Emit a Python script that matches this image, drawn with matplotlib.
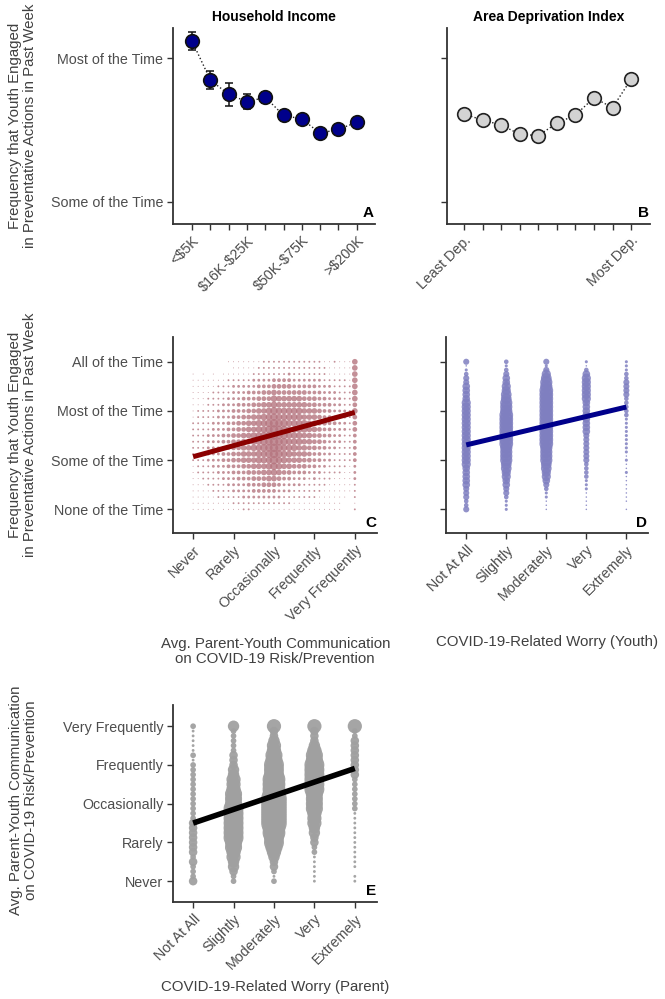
import numpy as np
import matplotlib
matplotlib.use("Agg")
from matplotlib import pyplot as plt

plt.rcParams['font.family'] = ['Liberation Sans', 'DejaVu Sans']

# ---------------- data ----------------
prev_labels = ['None of the Time', 'Some of the Time', 'Most of the Time', 'All of the Time']
comm_labels = ['Never', 'Rarely', 'Occasionally', 'Frequently', 'Very Frequently']
worry_labels = ['Not At All', 'Slightly', 'Moderately', 'Very', 'Extremely']

income_ticklabels = ['<\\$5K', '', '', '\\$16K-\\$25K', '', '', '\\$50K-\\$75K', '', '', '>\\$200K']
income_mean = [3.118, 2.847, 2.748, 2.697, 2.727, 2.602, 2.576, 2.477, 2.505, 2.553]
income_err = [0.061, 0.065, 0.082, 0.050, 0.040, 0.030, 0.030, 0.025, 0.025, 0.025]

adi_ticklabels = ['Least Dep.', '', '', '', '', '', '', '', '', 'Most Dep.']
adi_mean = [2.611, 2.569, 2.535, 2.470, 2.461, 2.547, 2.604, 2.724, 2.655, 2.854]
adi_err = [0.02, 0.02, 0.02, 0.02, 0.02, 0.02, 0.02, 0.03, 0.03, 0.03]

# panel C: dot size levels, rows y = 4 (top) .. 1 (bottom) in 1/8 steps,
# columns x = 1 .. 5 in 1/8 steps
c_grid = [
    "00000001 11111122 22222222 22112111 6",
    "00000000 11111222 22222222 22211111 6",
    "10101011 11112222 22232222 22211111 6",
    "11111112 22223333 44443333 33222221 6",
    "11111222 33333444 55554444 43332222 6",
    "11112222 33344455 65555554 44333222 6",
    "11122223 33444555 76666655 54433322 6",
    "11122233 34445566 76666665 54443322 5",
    "12222333 44455667 87777766 65443332 6",
    "12222333 44556677 87777766 65443332 5",
    "22223334 45566778 98877776 65544332 5",
    "22223334 45566778 98877776 65443332 5",
    "22233344 55667788 98877766 55443322 4",
    "22233344 55667788 98877766 55433322 4",
    "22233344 55667788 98777665 54433222 4",
    "22233344 55666778 98776665 44332222 4",
    "22233344 55666777 97766655 44332222 4",
    "12223334 44556667 87665554 43322221 3",
    "12222333 44455566 76554443 33222211 3",
    "11222233 34445556 65443332 32221111 3",
    "11122223 33344455 54333322 22211111 2",
    "11112222 33334444 43332222 22111111 2",
    "11111222 22333333 33222222 21111110 2",
    "11111111 22222222 22221111 11111100 1",
    "11111011 11221111 11111111 11111100 2",
]
c_fit = [2.07, 2.97]

# panel D: per worry level, dot size levels for y = 4 .. 1 in 1/12 steps
d_cols = [
    [4, 1, 2, 3, 4, 4, 5, 5, 5, 5, 6, 6, 6, 6, 6, 6, 6, 6, 6, 6, 6, 6, 6, 6, 6, 6, 5, 5, 5, 5, 5, 4, 4, 4, 3, 3, 4],
    [3, 2, 3, 4, 5, 5, 6, 6, 7, 7, 8, 8, 8, 9, 9, 9, 9, 9, 9, 9, 9, 8, 8, 8, 8, 7, 7, 6, 6, 5, 5, 4, 4, 3, 2, 2, 2],
    [4, 2, 4, 6, 7, 8, 8, 9, 9, 9, 9, 9, 9, 9, 9, 9, 9, 9, 9, 9, 9, 8, 8, 8, 8, 7, 7, 6, 6, 5, 4, 3, 2, 2, 1, 1, 1],
    [2, 1, 3, 5, 6, 6, 6, 6, 6, 6, 5, 5, 5, 5, 5, 5, 5, 5, 4, 4, 4, 4, 4, 4, 4, 3, 3, 3, 3, 2, 2, 2, 1, 1, 1, 1, 1],
    [2, 2, 2, 3, 3, 4, 4, 4, 4, 3, 3, 3, 3, 3, 2, 2, 2, 2, 2, 2, 2, 2, 2, 1, 2, 1, 1, 2, 1, 1, 1, 1, 1, 1, 1, 0, 1],
]
d_fit = [2.31, 3.08]

# panel E: per worry level, dot size levels for y = 5 .. 1 in 1/8 steps
e_cols = [
    [2, 1, 1, 1, 1, 1, 2, 1, 2, 2, 2, 2, 2, 2, 2, 2, 2, 2, 2, 2, 3, 3, 3, 3, 3, 3, 3, 2, 3, 2, 2, 2, 3],
    [4, 2, 2, 2, 2, 2, 3, 3, 3, 4, 4, 5, 5, 5, 6, 6, 6, 7, 7, 7, 7, 7, 7, 7, 6, 6, 5, 5, 4, 4, 3, 2, 2],
    [5, 3, 3, 4, 5, 5, 6, 6, 7, 7, 7, 8, 8, 8, 8, 9, 9, 9, 9, 9, 9, 8, 8, 7, 7, 6, 5, 4, 3, 3, 2, 1, 2],
    [5, 3, 3, 3, 4, 5, 6, 6, 7, 7, 7, 7, 7, 7, 6, 6, 6, 6, 5, 5, 5, 4, 4, 3, 3, 2, 2, 1, 1, 1, 1, 1, 1],
    [5, 2, 2, 3, 3, 3, 3, 3, 3, 3, 3, 2, 2, 2, 2, 2, 2, 2, 1, 1, 1, 1, 1, 1, 1, 1, 1, 1, 1, 1, 0, 1, 1],
]
e_fit = [2.5, 3.91]

ylab_prev = 'Frequency that Youth Engaged\nin Preventative Actions in Past Week'
lab_comm = 'Avg. Parent-Youth Communication\non COVID-19 Risk/Prevention'

TICK_COL = '#4d4d4d'
LAB_COL = '#404040'


def style(ax, letter):
    for s in ['top', 'right']:
        ax.spines[s].set_visible(False)
    for s in ['left', 'bottom']:
        ax.spines[s].set_linewidth(1.3)
        ax.spines[s].set_color('#333333')
    ax.tick_params(length=4, width=1, color='#333333', labelsize=10.3,
                   labelcolor=TICK_COL, pad=3)
    ax.text(0.995, 0.02, letter, transform=ax.transAxes, ha='right', va='bottom',
            fontweight='bold', fontsize=11)


def rot_labels(ax, labels):
    ax.set_xticklabels(labels, rotation=45, ha='right', va='top', rotation_mode='anchor')


fig = plt.figure(figsize=(6.65, 9.99), dpi=100)

# ---------------- A ----------------
axA = fig.add_axes([0.260, 0.776, 0.304, 0.196])
xs = np.arange(1, len(income_mean) + 1)
axA.plot(xs, income_mean, ':', color='#222222', lw=1, zorder=1)
axA.errorbar(xs, income_mean, yerr=income_err, fmt='none', ecolor='#111111',
             elinewidth=1.1, capsize=3, capthick=1.1, zorder=2)
axA.plot(xs, income_mean, 'o', ms=9.8, mfc='#00008b', mec='#111111', mew=1.2, zorder=3)
axA.set_xlim(-0.05, 11.0)
axA.set_ylim(1.847, 3.21)
axA.set_yticks([2, 3])
axA.set_yticklabels(prev_labels[1:3])
axA.set_xticks(xs)
rot_labels(axA, income_ticklabels)
axA.set_title('Household Income', fontweight='bold', fontsize=10, pad=5)
style(axA, 'A')

# ---------------- B ----------------
axB = fig.add_axes([0.672, 0.776, 0.305, 0.196])
axB.plot(xs, adi_mean, ':', color='#222222', lw=1, zorder=1)
axB.errorbar(xs, adi_mean, yerr=adi_err, fmt='none', ecolor='#111111',
             elinewidth=1.1, capsize=3, capthick=1.1, zorder=2)
axB.plot(xs, adi_mean, 'o', ms=9.8, mfc='#d3d3d3', mec='#222222', mew=1.2, zorder=3)
axB.set_xlim(0.08, 11.0)
axB.set_ylim(1.847, 3.21)
axB.set_yticks([2, 3])
axB.set_yticklabels([])
axB.set_xticks(xs)
rot_labels(axB, adi_ticklabels)
axB.set_title('Area Deprivation Index', fontweight='bold', fontsize=10, pad=5)
style(axB, 'B')

# ---------------- C ----------------
axC = fig.add_axes([0.260, 0.466, 0.307, 0.197])
rows = [r.replace(' ', '') for r in c_grid]
cx, cy, cs = [], [], []
for i, row in enumerate(rows):
    for j, ch in enumerate(row):
        lvl = int(ch)
        if lvl > 0:
            cx.append(1 + j / 8)
            cy.append(4 - i / 8)
            cs.append((0.68 * lvl) ** 2)
axC.scatter(cx, cy, s=cs, color='#b5747e', alpha=0.8, linewidths=0, zorder=2)
axC.plot([1, 5], c_fit, color='#8b0000', lw=3.6, solid_capstyle='butt', zorder=3)
axC.set_xlim(0.5, 5.55)
axC.set_ylim(0.51, 4.51)
axC.set_yticks([1, 2, 3, 4])
axC.set_yticklabels(prev_labels)
axC.set_xticks([1, 2, 3, 4, 5])
rot_labels(axC, comm_labels)
style(axC, 'C')

# ---------------- D ----------------
axD = fig.add_axes([0.671, 0.466, 0.304, 0.197])
for k, col in enumerate(d_cols):
    yv = [4 - i / 12 for i in range(len(col))]
    sv = [(1.1 * v) ** 2 for v in col]
    axD.scatter([k + 1] * len(col), yv, s=sv, color='#7f7fc0', alpha=0.85,
                linewidths=0, zorder=2)
axD.plot([1, 5], d_fit, color='#00008b', lw=3.6, solid_capstyle='butt', zorder=3)
axD.set_xlim(0.5, 5.55)
axD.set_ylim(0.51, 4.51)
axD.set_yticks([1, 2, 3, 4])
axD.set_yticklabels([])
axD.set_xticks([1, 2, 3, 4, 5])
rot_labels(axD, worry_labels)
style(axD, 'D')

# ---------------- E ----------------
axE = fig.add_axes([0.260, 0.097, 0.307, 0.197])
for k, col in enumerate(e_cols):
    yv = [5 - i / 8 for i in range(len(col))]
    sv = [(2.05 * v) ** 2 for v in col]
    axE.scatter([k + 1] * len(col), yv, s=sv, color='#a0a0a0', alpha=0.95,
                linewidths=0, zorder=2)
axE.plot([1, 5], e_fit, color='black', lw=4, solid_capstyle='butt', zorder=3)
axE.set_xlim(0.5, 5.55)
axE.set_ylim(0.46, 5.54)
axE.set_yticks([1, 2, 3, 4, 5])
axE.set_yticklabels(comm_labels)
axE.set_xticks([1, 2, 3, 4, 5])
rot_labels(axE, worry_labels)
style(axE, 'E')

# ---------------- axis labels ----------------
fig.text(0.034, 0.874, ylab_prev, rotation=90, ha='center', va='center',
         fontsize=10.8, color=LAB_COL, linespacing=1.1)
fig.text(0.034, 0.565, ylab_prev, rotation=90, ha='center', va='center',
         fontsize=10.8, color=LAB_COL, linespacing=1.1)
fig.text(0.035, 0.199, lab_comm, rotation=90, ha='center', va='center',
         fontsize=10.8, color=LAB_COL, linespacing=1.1)
fig.text(0.414, 0.348, lab_comm, ha='center', va='center',
         fontsize=10.8, color=LAB_COL, linespacing=1.1)
fig.text(0.822, 0.357, 'COVID-19-Related Worry (Youth)', ha='center', va='center',
         fontsize=10.8, color=LAB_COL)
fig.text(0.414, 0.012, 'COVID-19-Related Worry (Parent)', ha='center', va='center',
         fontsize=10.8, color=LAB_COL)

fig.savefig('out.png', dpi=100)
